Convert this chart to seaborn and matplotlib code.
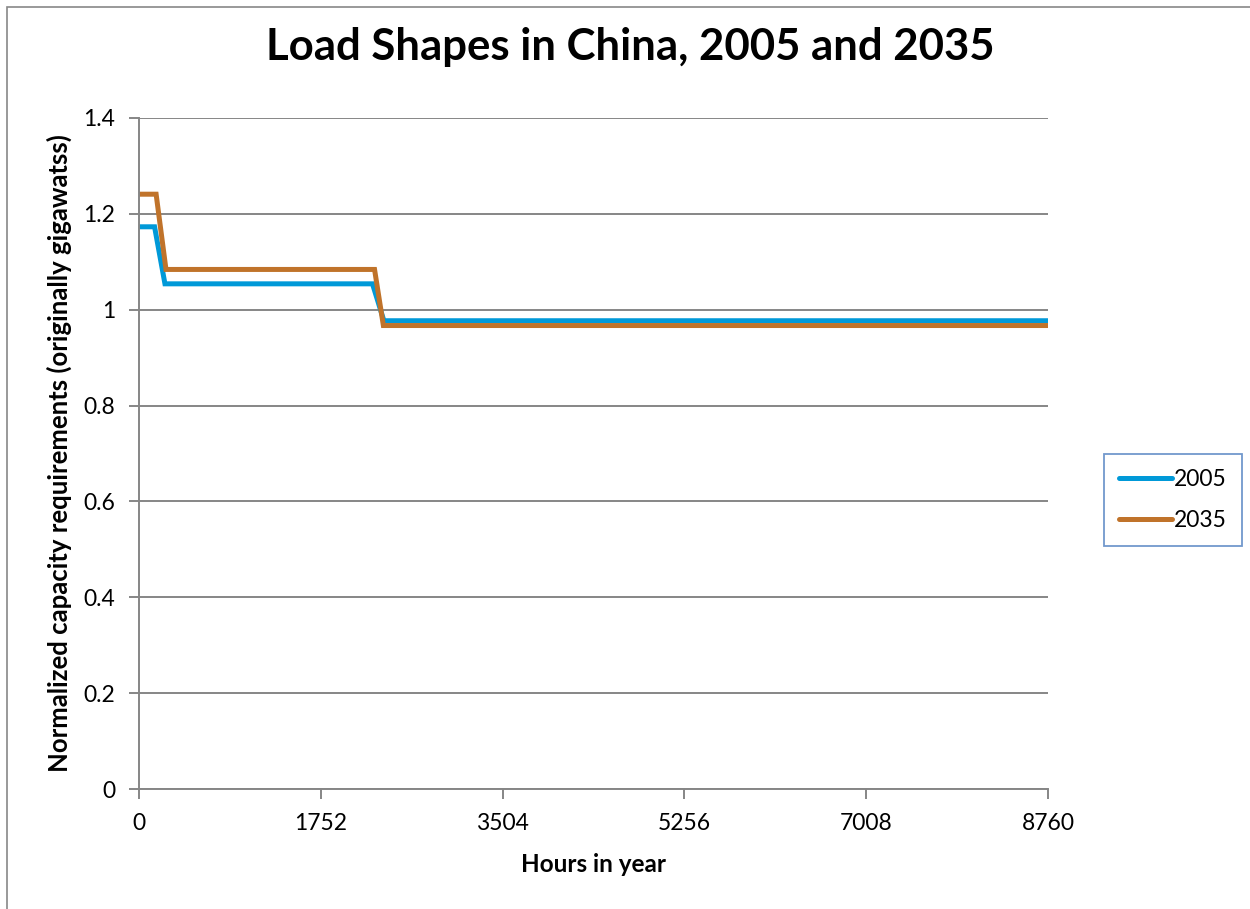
import matplotlib
matplotlib.use("Agg")
import matplotlib.pyplot as plt
import seaborn as sns
import pandas as pd
from matplotlib.patches import Rectangle

# Load-duration steps (hours in year vs normalized capacity)
hours_2005 = [0, 150, 250, 2250, 2360, 8760]
load_2005 = [1.173, 1.173, 1.054, 1.054, 0.977, 0.977]
hours_2035 = [0, 165, 260, 2270, 2355, 8760]
load_2035 = [1.241, 1.241, 1.084, 1.084, 0.967, 0.967]
series_names = ["2005", "2035"]
x_ticks = [0, 1752, 3504, 5256, 7008, 8760]
y_ticks = [0, 0.2, 0.4, 0.6, 0.8, 1.0, 1.2, 1.4]
y_tick_labels = ["0", "0.2", "0.4", "0.6", "0.8", "1", "1.2", "1.4"]

df = pd.concat([
    pd.DataFrame({"hours": hours_2005, "load": load_2005, "year": series_names[0]}),
    pd.DataFrame({"hours": hours_2035, "load": load_2035, "year": series_names[1]}),
])

sns.set_theme(style="white")
plt.rcParams["font.family"] = ["Lato", "DejaVu Sans"]
plt.rcParams["text.color"] = "black"

fig = plt.figure(figsize=(12.5, 9.09), dpi=100)
fig.patches.append(Rectangle((7 / 1250, -0.01), 1.1, 1 - 7 / 909 + 0.01,
                             transform=fig.transFigure, fill=False,
                             edgecolor="#888888", linewidth=1.2))
ax = fig.add_axes([0.1112, 0.1320, 0.7272, 0.7382])

palette = {"2005": "#0099D8", "2035": "#C0732A"}
sns.lineplot(data=df, x="hours", y="load", hue="year", palette=palette,
             linewidth=3.6, sort=False, estimator=None, ax=ax, legend=False,
             solid_joinstyle="miter", solid_capstyle="butt")

ax.set_xlim(0, 8760)
ax.set_ylim(0, 1.4)
ax.set_xticks(x_ticks)
ax.set_xticklabels([str(t) for t in x_ticks])
ax.set_yticks(y_ticks)
ax.set_yticklabels(y_tick_labels)
ax.yaxis.grid(True, color="#868686", linewidth=1.4)
ax.set_axisbelow(True)
for side in ["top", "right"]:
    ax.spines[side].set_visible(False)
for side in ["left", "bottom"]:
    ax.spines[side].set_color("#868686")
    ax.spines[side].set_linewidth(1.4)
ax.tick_params(axis="both", which="both", direction="out", length=7,
               width=1.4, color="#868686", labelsize=16.5, labelcolor="black",
               bottom=True, left=True, pad=10)
ax.tick_params(axis="x", pad=10)

ax.set_xlabel("Hours in year", fontsize=17.5, fontweight="bold", labelpad=14,
              color="black")
ax.set_ylabel("Normalized capacity requirements (originally gigawatss)",
              fontsize=18.5, fontweight="bold", labelpad=8, color="black")
fig.text(0.504, 0.948, "Load Shapes in China, 2005 and 2035", ha="center",
         va="center", fontsize=31.5, fontweight="bold", color="black")

handles = [plt.Line2D([], [], color=palette[n], linewidth=3.6,
                      solid_capstyle="round") for n in series_names]
leg = fig.legend(handles, series_names, loc="center left",
                 bbox_to_anchor=(1104 / 1250, 1 - 500 / 909), fontsize=16.5,
                 frameon=True, fancybox=False, handlelength=2.3,
                 handletextpad=0.1, labelspacing=0.9, borderpad=0.65,
                 borderaxespad=0.0)
leg.get_frame().set_edgecolor("#4F7FC0")
leg.get_frame().set_linewidth(1.3)

fig.savefig("out.png", dpi=100)
